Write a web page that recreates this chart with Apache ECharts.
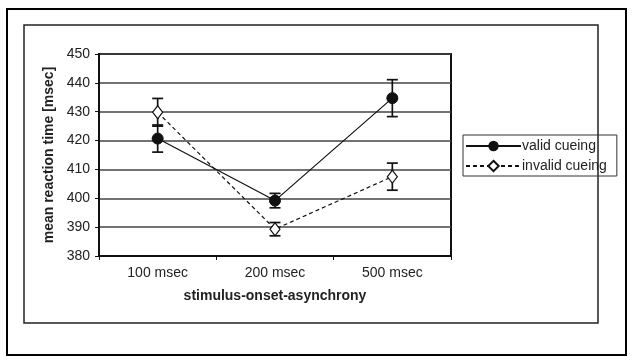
<!DOCTYPE html>
<html>
<head>
<meta charset="utf-8">
<script src="https://cdn.jsdelivr.net/npm/echarts@6/dist/echarts.min.js"></script>
<style>
  html, body { margin: 0; padding: 0; background: #fff; }
  #chart { width: 635px; height: 362px; }
</style>
</head>
<body>
<div id="chart"></div>
<script>
// data
const categories = ["100 msec", "200 msec", "500 msec"];
const validMean = [420.7, 399.2, 434.7];
const validErr = [4.7, 2.5, 6.4];
const invalidMean = [429.8, 389.3, 407.5];
const invalidErr = [4.8, 2.3, 4.7];

const font = "Liberation Sans, Arial, sans-serif";

function errorBars(mean, err) {
  return mean.map((m, i) => [i, m - err[i], m + err[i]]);
}

function renderError(params, api) {
  const x = api.value(0);
  const lo = api.coord([x, api.value(1)]);
  const hi = api.coord([x, api.value(2)]);
  const w = 5.5;
  const style = { stroke: "#111", lineWidth: 1.7, fill: null };
  return {
    type: "group",
    children: [
      { type: "line", shape: { x1: lo[0], y1: lo[1], x2: hi[0], y2: hi[1] }, style },
      { type: "line", shape: { x1: lo[0] - w, y1: lo[1], x2: lo[0] + w, y2: lo[1] }, style },
      { type: "line", shape: { x1: hi[0] - w, y1: hi[1], x2: hi[0] + w, y2: hi[1] }, style },
    ],
  };
}

const chart = echarts.init(document.getElementById("chart"));
chart.setOption({
  animation: false,
  backgroundColor: "#fff",
  graphic: [
    { type: "rect", shape: { x: 7, y: 9, width: 619, height: 346 }, style: { fill: null, stroke: "#000", lineWidth: 2 }, z: -1 },
    { type: "rect", shape: { x: 24, y: 25, width: 574, height: 298 }, style: { fill: null, stroke: "#222", lineWidth: 1.5 }, z: -1 },
  ],
  grid: {
    left: 99, top: 54, width: 352, height: 202,
    show: true, borderColor: "#111", borderWidth: 2, backgroundColor: "#fff",
  },
  legend: {
    left: 463, top: 135,
    orient: "vertical",
    itemWidth: 55, itemHeight: 13, itemGap: 6,
    padding: [4, 10, 3, 2],
    borderColor: "#333", borderWidth: 1,
    textStyle: { fontFamily: font, fontSize: 14, color: "#222", padding: [0, 0, 0, -4] },
    data: ["valid cueing", "invalid cueing"],
  },
  xAxis: {
    type: "category",
    data: categories,
    boundaryGap: true,
    name: "stimulus-onset-asynchrony",
    nameLocation: "middle",
    nameGap: 33,
    nameTextStyle: { fontFamily: font, fontSize: 14, fontWeight: "bold", color: "#222" },
    axisLine: { lineStyle: { color: "#111", width: 2 } },
    axisTick: { show: true, length: 4, lineStyle: { color: "#111", width: 1 } },
    axisLabel: { fontFamily: font, fontSize: 14, color: "#222", margin: 10 },
  },
  yAxis: {
    type: "value",
    min: 380, max: 450, interval: 10,
    name: "mean reaction time [msec]",
    nameLocation: "middle",
    nameRotate: 90,
    nameGap: 38,
    nameTextStyle: { fontFamily: font, fontSize: 14, fontWeight: "bold", color: "#222" },
    axisLine: { show: true, lineStyle: { color: "#111", width: 2 } },
    axisTick: { show: true, length: 4, lineStyle: { color: "#111", width: 1 } },
    axisLabel: { fontFamily: font, fontSize: 14, color: "#222", margin: 9 },
    splitLine: { lineStyle: { color: "#444", width: 1.6 } },
  },
  series: [
    {
      name: "valid cueing",
      type: "line",
      data: validMean,
      symbol: "circle",
      symbolSize: 11,
      itemStyle: { color: "#111", borderColor: "#111" },
      lineStyle: { color: "#111", width: 1.2, type: "solid" },
      z: 4,
    },
    {
      name: "invalid cueing",
      type: "line",
      data: invalidMean,
      symbol: "diamond",
      symbolSize: [10, 13],
      itemStyle: { color: "#fff", borderColor: "#111", borderWidth: 1.2 },
      lineStyle: { color: "#111", width: 1.2, type: [4, 3] },
      z: 4,
    },
    {
      type: "custom",
      renderItem: renderError,
      data: errorBars(validMean, validErr),
      encode: { x: 0, y: [1, 2] },
      z: 3,
    },
    {
      type: "custom",
      renderItem: renderError,
      data: errorBars(invalidMean, invalidErr),
      encode: { x: 0, y: [1, 2] },
      z: 3,
    },
  ],
});
</script>
</body>
</html>
